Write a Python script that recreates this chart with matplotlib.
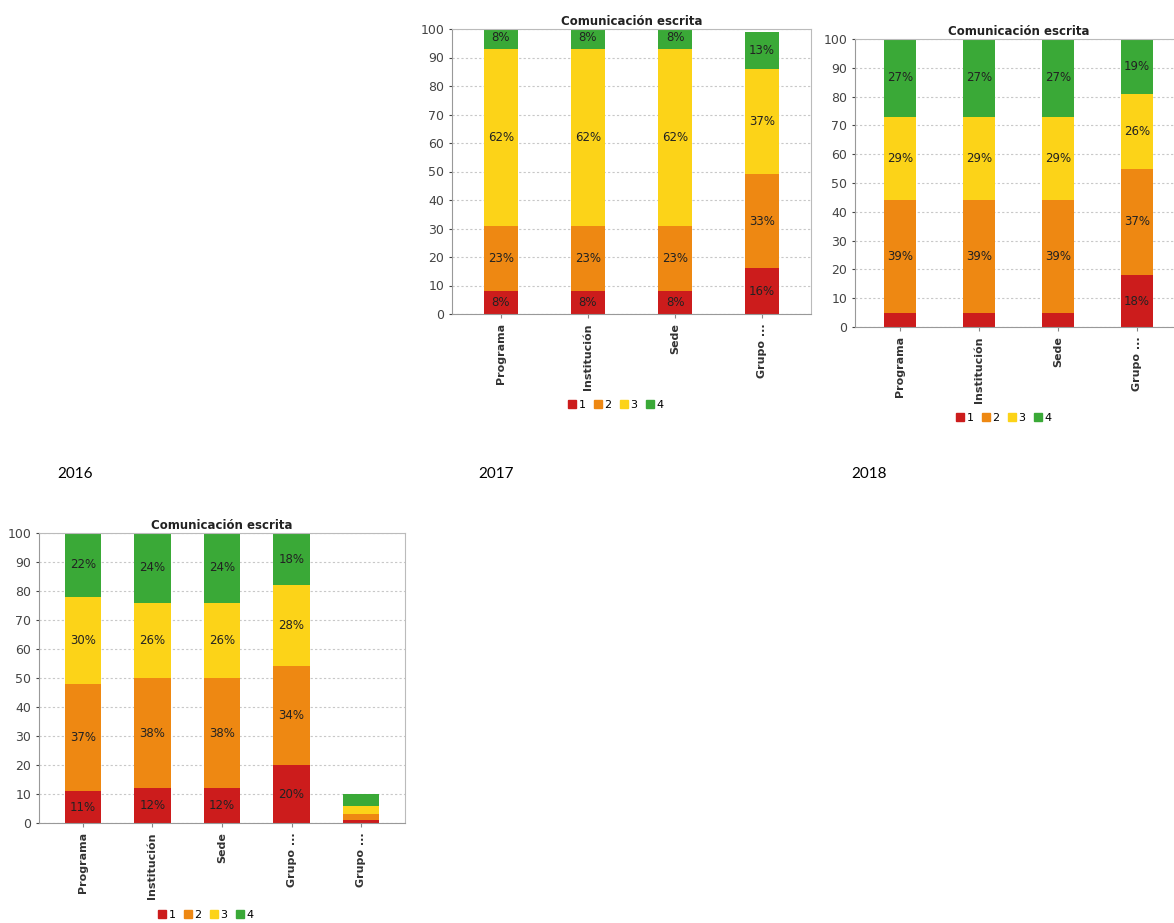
import numpy as np
import matplotlib.pyplot as plt
from matplotlib.lines import Line2D

# niveles de desempeno y colores
levels = ["1", "2", "3", "4"]
level_colors = ["#cc1c1c", "#ee8812", "#fcd318", "#3aa937"]

# 2016
cats_2016 = ["Programa", "Institución", "Sede", "Grupo ...", "Grupo ..."]
shares_2016 = [
    [11, 12, 12, 20, 1],   # nivel 1
    [37, 38, 38, 34, 2],   # nivel 2
    [30, 26, 26, 28, 3],   # nivel 3
    [22, 24, 24, 18, 4],   # nivel 4
]

# 2017
cats_2017 = ["Programa", "Institución", "Sede", "Grupo ..."]
shares_2017 = [
    [8, 8, 8, 16],
    [23, 23, 23, 33],
    [62, 62, 62, 37],
    [8, 8, 8, 13],
]

# 2018
cats_2018 = ["Programa", "Institución", "Sede", "Grupo ..."]
shares_2018 = [
    [5, 5, 5, 18],
    [39, 39, 39, 37],
    [29, 29, 29, 26],
    [27, 27, 27, 19],
]

W, H = 1174, 923
fig = plt.figure(figsize=(W / 100, H / 100), dpi=100)


def px_axes(left, top, right, bottom):
    return fig.add_axes([left / W, 1 - bottom / H, (right - left) / W, (bottom - top) / H])


def stacked_chart(ax, cats, shares, legend_xy, width, margin):
    x = np.arange(len(cats))
    bottom = np.zeros(len(cats))
    for lvl, col, vals in zip(levels, level_colors, shares):
        vals = np.array(vals, dtype=float)
        ax.bar(x, vals, width, bottom=bottom, color=col, zorder=2)
        for xi, b, v in zip(x, bottom, vals):
            if v >= 7:
                ax.text(xi, b + v / 2, f"{int(v)}%", ha="center", va="center",
                        fontsize=8.5, color="#222222", zorder=3, clip_on=True)
        bottom += vals
    ax.set_xlim(-margin, len(cats) - 1 + margin)
    ax.set_ylim(0, 100)
    ax.set_yticks(range(0, 101, 10))
    ax.set_xticks(x)
    ax.set_xticklabels(cats, rotation=90, fontsize=8, fontweight="bold", color="#333333")
    ax.tick_params(axis="y", labelsize=9, colors="#444444", length=2)
    ax.tick_params(axis="x", length=3, colors="#888888", labelcolor="#333333")
    ax.yaxis.grid(True, linestyle=(0, (2, 2)), color="#c8c8c8", linewidth=0.8)
    ax.set_axisbelow(True)
    for s in ax.spines.values():
        s.set_color("#bbbbbb")
    ax.spines["left"].set_color("#999999")
    ax.spines["bottom"].set_color("#999999")
    ax.set_title("Comunicación escrita", fontsize=8.5, fontweight="bold", color="#222222", pad=3)

    handles = [Line2D([], [], marker="s", linestyle="none", markersize=6, color=c) for c in level_colors]
    fig.legend(handles, levels, loc="center", bbox_to_anchor=(legend_xy[0] / W, 1 - legend_xy[1] / H),
               ncol=4, frameon=False, fontsize=8, handletextpad=0.1, columnspacing=0.6,
               handlelength=1.0)


ax16 = px_axes(39, 533, 405, 823)
stacked_chart(ax16, cats_2016, shares_2016, (205, 915), 0.52, 0.633)

ax17 = px_axes(452, 29, 811, 314)
stacked_chart(ax17, cats_2017, shares_2017, (615, 405), 0.40, 0.563)

ax18 = px_axes(855, 39, 1182, 327)
stacked_chart(ax18, cats_2018, shares_2018, (1003, 418), 0.41, 0.57)

for lab, xp in zip(["2016", "2017", "2018"], [57, 478, 851]):
    fig.text(xp / W, 1 - 474 / H, lab, fontsize=11, family="Lato", va="center", ha="left")

fig.savefig("out.png", dpi=100)
